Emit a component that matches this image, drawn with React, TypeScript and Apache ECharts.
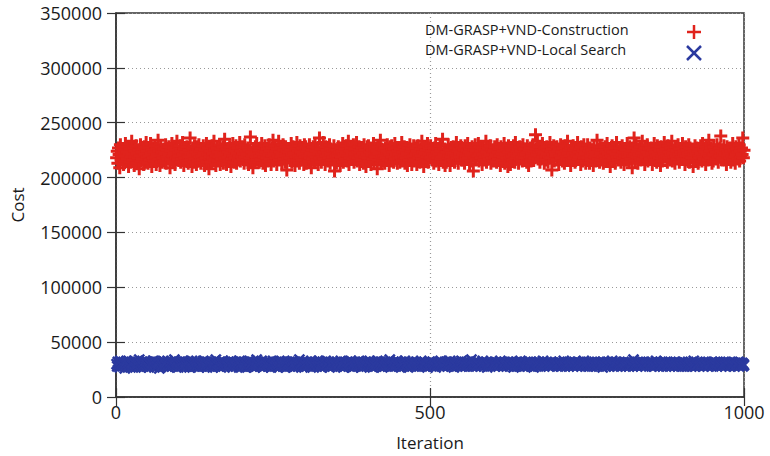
import React, { useEffect, useRef } from "react";
import * as echarts from "echarts";

// Cost values in thousands, one per iteration (1..1000)
const constructionK: number[] = [
218,224,213,227,221,209,230,216,222,219,226,212,225,220,231,215,223,217,228,210,222,226,214,219,233,
221,216,227,211,224,219,229,213,222,218,225,208,220,230,215,223,217,226,212,228,221,214,232,219,224,
213,227,220,216,231,222,210,225,218,223,215,229,219,212,226,221,234,217,224,211,228,220,214,223,218,
226,215,222,230,213,219,225,217,228,221,209,224,216,231,220,214,227,222,212,225,218,233,219,216,223,
220,229,214,224,217,232,221,211,226,218,223,215,228,220,213,225,219,236,216,222,210,227,221,214,229,
217,223,212,228,221,215,230,219,224,213,226,220,216,229,222,211,225,218,231,214,221,227,208,223,219,
224,214,229,218,222,233,216,225,211,220,227,215,223,219,230,212,226,221,217,228,213,222,235,218,225,
212,226,219,223,215,228,221,210,225,217,231,220,214,224,218,229,213,222,227,216,220,232,215,224,219,
228,217,222,213,230,219,224,216,221,227,212,225,218,237,215,223,220,209,226,221,214,228,219,231,216,
221,225,214,220,227,216,231,222,213,224,219,229,211,223,218,226,215,221,230,217,224,212,227,220,234,
215,222,229,218,224,212,226,220,233,216,223,219,227,213,221,230,217,225,214,228,220,207,224,218,226,
223,218,225,231,214,221,228,216,222,211,226,219,232,215,224,220,213,229,218,223,216,227,221,212,230,
219,228,213,224,220,226,215,230,218,222,209,225,217,228,221,214,231,219,224,216,227,212,222,236,218,
226,214,221,219,232,217,223,212,228,220,225,215,222,218,230,213,226,221,216,224,219,229,206,225,220,
213,225,220,228,216,223,211,227,219,224,231,214,221,226,217,222,229,215,220,233,212,224,218,227,221,
222,217,230,214,221,226,219,232,215,223,218,228,212,225,220,216,227,222,213,230,219,225,210,221,228,
218,229,215,223,227,212,221,225,217,231,214,220,226,219,224,208,228,216,222,219,234,213,226,220,215,
225,220,213,227,218,224,230,216,222,211,228,221,215,229,219,223,214,226,231,217,221,227,213,224,218,
221,214,226,219,232,215,223,220,228,213,225,218,222,211,227,221,216,230,219,224,212,226,220,229,215,
216,227,222,212,224,229,218,221,214,226,220,233,217,223,210,228,222,215,225,219,231,214,221,227,218,
229,219,224,216,221,213,227,220,231,215,223,218,226,212,222,229,217,224,219,235,214,221,226,211,223,
214,223,218,230,220,226,211,225,219,222,216,228,221,214,227,220,232,218,224,213,226,219,222,229,216,
227,216,221,225,213,229,220,217,224,231,218,223,212,226,221,215,228,222,206,225,218,230,216,224,220,
220,231,215,222,228,218,224,212,227,221,216,225,219,233,214,223,220,227,217,221,229,213,225,218,223,
215,224,228,219,221,214,230,223,217,226,220,211,228,222,216,224,219,231,213,227,221,218,225,210,229,
223,219,212,227,225,220,216,229,221,214,232,218,224,220,226,213,222,228,217,224,219,215,230,221,226,
218,226,221,214,229,223,211,225,219,227,215,222,220,230,216,224,218,239,226,221,233,217,223,228,214,
225,217,223,231,219,222,213,227,220,216,228,221,214,225,219,232,218,224,207,226,221,229,215,223,220,
221,228,216,224,212,226,220,230,218,223,215,227,221,213,229,219,224,217,233,222,216,225,220,211,227,
216,222,229,218,225,214,221,227,220,232,217,223,219,226,212,228,221,215,224,230,218,222,213,226,219,
230,218,224,213,227,220,216,225,222,211,229,219,223,215,221,234,217,226,220,214,228,222,216,225,219,
213,225,220,228,217,223,231,215,222,219,226,210,224,220,229,216,223,218,227,213,221,232,219,224,216,
224,219,227,214,221,229,218,223,212,226,220,225,216,231,222,219,214,228,221,217,224,209,227,220,236,
221,215,230,219,224,213,226,221,218,228,216,222,233,217,225,220,212,227,219,223,230,215,221,226,218,
217,227,222,212,225,219,231,216,223,220,214,229,221,226,218,224,211,228,220,215,225,222,232,219,224,
226,220,214,229,218,223,216,227,221,233,215,222,219,225,213,228,220,224,217,230,221,214,226,219,223,
219,231,217,224,221,212,228,220,225,216,222,230,214,227,219,223,218,226,210,224,221,229,215,222,227,
224,213,226,220,218,229,222,215,231,219,225,217,223,212,228,221,226,216,234,220,224,218,227,213,221,
215,228,221,225,217,223,230,219,214,226,220,227,238,224,216,218,222,229,216,221,225,212,228,220,223,
222,218,227,214,224,220,231,216,225,219,213,228,221,226,217,223,230,215,224,219,227,221,236,218,225
];

const localSearchK: number[] = [
30,28,32,29,31,27,33,30,29,31,28,32,30,26,31,29,33,30,28,31,29,32,27,30,31,
29,31,28,33,30,27,32,29,31,30,28,34,29,31,27,30,32,28,31,29,30,33,28,30,32,
31,27,30,32,29,31,28,30,33,29,27,31,30,32,28,31,29,30,26,32,30,28,31,29,33,
28,32,30,29,31,28,33,30,27,31,29,32,30,28,31,30,29,34,28,30,32,29,31,27,30,
32,29,31,28,30,33,29,31,27,30,32,28,31,30,29,32,27,31,30,28,33,30,29,31,28,
30,28,33,31,29,30,27,32,30,29,31,28,30,33,29,31,28,30,32,27,31,29,30,28,32,
29,31,30,27,32,29,31,28,34,30,29,31,28,30,32,29,27,31,30,33,28,30,31,29,30,
31,29,28,32,30,31,29,33,28,30,27,32,29,31,30,28,32,30,29,31,27,33,30,28,31,
28,30,32,29,31,27,30,29,32,31,28,30,33,29,30,28,31,32,29,30,27,31,30,34,29,
30,32,29,31,28,30,33,29,27,31,30,28,32,30,29,31,28,30,32,29,31,27,30,29,33,
29,31,28,30,32,29,31,27,30,33,28,31,29,30,32,28,30,31,29,27,32,30,28,31,30,
32,28,30,31,29,33,27,30,31,28,32,29,30,31,28,30,34,29,31,30,28,32,29,30,27,
30,29,31,28,32,30,29,31,30,27,33,29,31,28,30,32,29,30,31,28,30,29,33,31,28,
31,30,27,32,29,31,28,30,33,29,30,31,28,32,27,30,29,31,30,28,32,30,29,31,30,
28,32,30,29,31,30,28,33,29,30,31,27,32,30,28,31,29,30,32,29,28,31,30,33,29,
30,27,31,30,28,32,29,31,30,29,28,33,30,31,29,27,32,30,31,28,30,29,32,28,31,
29,31,30,33,29,28,31,30,27,32,30,29,31,28,30,33,29,31,30,28,32,29,30,27,31,
32,29,28,31,30,29,32,28,31,30,34,29,30,28,31,29,32,30,28,31,30,29,33,30,28,
30,31,29,27,32,30,31,29,28,33,30,29,31,30,27,32,29,30,31,28,30,32,29,31,30,
28,30,32,29,31,28,30,31,29,30,33,28,31,29,30,32,28,31,30,29,27,31,30,32,29,
31,29,30,32,28,31,29,30,27,31,30,29,32,30,28,31,33,29,30,31,28,30,29,32,30,
29,32,28,30,31,29,33,30,28,31,29,30,27,32,30,29,31,28,30,32,29,31,30,28,33,
30,28,31,29,32,30,28,31,30,29,32,28,30,31,29,34,30,28,31,29,30,32,28,30,31,
32,30,29,31,28,30,31,29,33,30,28,31,29,30,32,27,31,30,29,31,28,30,32,29,30,
29,31,30,28,32,29,30,31,28,30,29,33,31,29,30,28,31,30,32,29,30,28,31,29,32,
31,28,30,32,29,31,30,27,31,30,29,32,28,31,30,29,31,28,33,30,29,31,30,28,30,
30,32,29,31,28,30,29,31,30,32,28,30,31,29,27,31,30,29,32,30,31,28,30,32,29,
28,30,31,29,33,30,28,31,29,30,32,29,30,28,31,30,29,32,30,28,31,29,30,31,29,
31,29,30,28,31,32,30,29,31,28,30,29,33,30,28,31,30,29,31,30,28,32,29,30,31,
29,31,28,30,32,29,31,30,28,31,30,32,29,30,31,28,30,29,31,33,29,30,28,31,30,
30,28,32,29,30,31,29,28,31,30,29,32,30,28,31,29,30,31,28,30,32,29,31,30,27,
32,30,29,31,28,30,32,29,30,31,28,29,31,30,33,29,30,28,31,29,30,32,28,30,31,
29,31,30,28,31,29,30,32,29,30,31,28,30,29,32,30,28,31,30,29,31,30,28,34,29,
30,29,31,30,28,32,29,30,31,29,28,31,30,32,29,30,31,28,30,29,31,30,32,29,30,
31,30,28,32,30,29,31,28,30,33,29,30,31,29,28,30,32,29,31,30,28,31,29,30,32,
28,31,30,29,31,30,28,32,29,30,31,29,30,28,31,32,29,30,31,28,30,29,31,30,28,
30,32,29,31,28,30,31,29,30,28,32,30,29,31,30,28,31,29,30,33,28,30,31,29,30,
29,30,31,28,32,29,30,31,29,30,28,31,30,32,29,30,28,31,30,29,31,30,28,32,29,
31,29,30,32,29,31,28,30,31,29,30,32,29,28,31,30,29,31,30,28,32,30,29,31,30,
30,28,31,29,30,32,29,31,30,28,31,29,30,31,29,32,28,30,31,29,30,31,28,30,29
];

const seriesNames = ["DM-GRASP+VND-Construction", "DM-GRASP+VND-Local Search"];
const xTicks = { min: 0, max: 1000, interval: 500 };
const yTicks = { min: 0, max: 350000, interval: 50000 };

const toPoints = (vals: number[]) => vals.map((v, i) => [i + 1, v * 1000]);

const FONT = "'Open Sans', 'Noto Sans', sans-serif";
const RED = "#e0231c";
const BLUE = "#2b3a9f";

export default function App() {
  const ref = useRef<HTMLDivElement>(null);
  useEffect(() => {
    if (!ref.current) return;
    const chart = echarts.init(ref.current, undefined, { renderer: "svg" });
    const tickStyle = { show: true, inside: true, length: 9, lineStyle: { color: "#333", width: 1.2 } };
    const dotted = { show: true, lineStyle: { color: "#999", type: [1, 3], width: 1.2 } };
    const legendX = 425;
    const markX = 694;
    chart.setOption({
      animation: false,
      backgroundColor: "#ffffff",
      grid: {
        left: 116,
        right: 26,
        top: 13,
        bottom: 59,
        show: true,
        borderColor: "#333",
        borderWidth: 1.5,
        backgroundColor: "transparent",
      },
      graphic: [
        {
          type: "text",
          left: legendX,
          top: 22,
          style: { text: seriesNames[0], fontFamily: FONT, fontSize: 14.5, fill: "#1a1a1a" },
          z: 10,
        },
        {
          type: "text",
          left: legendX,
          top: 42,
          style: { text: seriesNames[1], fontFamily: FONT, fontSize: 14.5, fill: "#1a1a1a" },
          z: 10,
        },
        {
          type: "group",
          x: markX,
          y: 32,
          z: 10,
          children: [
            { type: "line", shape: { x1: -7, y1: 0, x2: 7, y2: 0 }, style: { stroke: RED, lineWidth: 2.5 } },
            { type: "line", shape: { x1: 0, y1: -7, x2: 0, y2: 7 }, style: { stroke: RED, lineWidth: 2.5 } },
          ],
        },
        {
          type: "group",
          x: markX,
          y: 53,
          z: 10,
          children: [
            { type: "line", shape: { x1: -7, y1: -7, x2: 7, y2: 7 }, style: { stroke: BLUE, lineWidth: 2.5 } },
            { type: "line", shape: { x1: 7, y1: -7, x2: -7, y2: 7 }, style: { stroke: BLUE, lineWidth: 2.5 } },
          ],
        },
      ],
      xAxis: [
        {
          type: "value",
          ...xTicks,
          name: "Iteration",
          nameLocation: "middle",
          nameGap: 37,
          nameTextStyle: { fontFamily: FONT, fontSize: 17, color: "#1a1a1a" },
          axisLine: { show: true, lineStyle: { color: "#333", width: 1.5 } },
          axisTick: tickStyle,
          axisLabel: { fontFamily: FONT, fontSize: 18, color: "#1a1a1a", margin: 6, formatter: (v: number) => String(v) },
          splitLine: dotted,
        },
        {
          type: "value",
          ...xTicks,
          position: "top",
          axisLine: { show: false },
          axisTick: tickStyle,
          axisLabel: { show: false },
          splitLine: { show: false },
        },
      ],
      yAxis: [
        {
          type: "value",
          ...yTicks,
          name: "Cost",
          nameLocation: "middle",
          nameGap: 90,
          nameTextStyle: { fontFamily: FONT, fontSize: 17, color: "#1a1a1a" },
          axisLine: { show: true, lineStyle: { color: "#333", width: 1.5 } },
          axisTick: tickStyle,
          axisLabel: { fontFamily: FONT, fontSize: 18, color: "#1a1a1a", margin: 14, formatter: (v: number) => String(v) },
          splitLine: dotted,
        },
        {
          type: "value",
          ...yTicks,
          position: "right",
          axisLine: { show: false },
          axisTick: tickStyle,
          axisLabel: { show: false },
          splitLine: { show: false },
        },
      ],
      series: [
        {
          name: seriesNames[0],
          type: "scatter",
          symbol: "path://M6,0V12M0,6H12",
          symbolSize: 13,
          itemStyle: { color: RED, borderColor: RED, borderWidth: 3, opacity: 1 },
          data: toPoints(constructionK),
          z: 3,
        },
        {
          name: seriesNames[1],
          type: "scatter",
          symbol: "path://M0,0L10,10M10,0L0,10",
          symbolSize: 10,
          itemStyle: { color: BLUE, borderColor: BLUE, borderWidth: 2.5, opacity: 1 },
          data: toPoints(localSearchK),
          z: 3,
        },
      ],
    });
    return () => chart.dispose();
  }, []);
  return <div ref={ref} style={{ width: 770, height: 456, position: "absolute", left: 0, top: 0 }} />;
}
